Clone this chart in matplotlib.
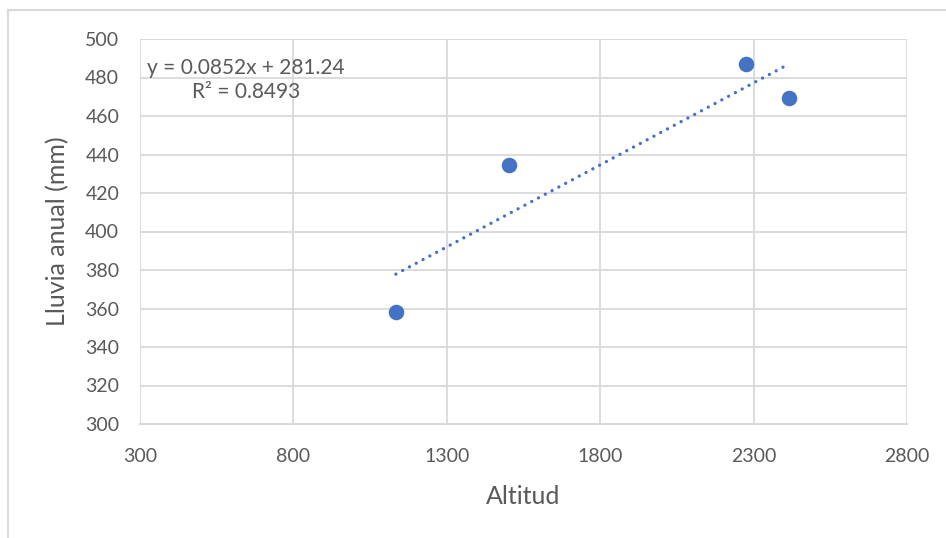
import numpy as np
import matplotlib
matplotlib.use("Agg")
import matplotlib.pyplot as plt

plt.rcParams['font.family'] = ['Lato', 'DejaVu Sans']

# Station altitude (m) and annual rainfall (mm)
altitud = [1134, 1503, 2275, 2415]
lluvia = [358.2, 434.5, 487.0, 469.4]

# Linear trend as reported on the chart
slope = 0.0852
intercept = 281.24
r2 = 0.8493

x_ticks = [300, 800, 1300, 1800, 2300, 2800]
y_ticks = [300, 320, 340, 360, 380, 400, 420, 440, 460, 480, 500]

blue = '#4472C4'
grid_c = '#D9D9D9'
text_c = '#595959'

W, H = 946, 538
fig = plt.figure(figsize=(W / 100, H / 100), dpi=100)
fig.patch.set_facecolor('white')

# chart-area frame (top and left edges visible)
fig.add_artist(plt.Line2D([8 / W, 1.0], [1 - 10 / H] * 2, color=grid_c, lw=1.5,
                          transform=fig.transFigure))
fig.add_artist(plt.Line2D([8 / W] * 2, [0.0, 1 - 10 / H], color=grid_c, lw=1.5,
                          transform=fig.transFigure))

ax = fig.add_axes([140 / W, 1 - 424 / H, (907 - 140) / W, (424 - 39) / H])
ax.set_xlim(300, 2800)
ax.set_ylim(300, 500)
ax.set_xticks(x_ticks)
ax.set_yticks(y_ticks)
ax.grid(True, color=grid_c, lw=1.3)
ax.set_axisbelow(True)
for side in ['top', 'right', 'left']:
    ax.spines[side].set_visible(False)
ax.spines['bottom'].set_color(grid_c)
ax.spines['bottom'].set_linewidth(1.5)
ax.tick_params(length=0, labelsize=14, colors=text_c)
ax.tick_params(axis='x', pad=17)
ax.tick_params(axis='y', pad=15)

# trend line over the data range
xt = np.linspace(min(altitud), max(altitud), 50)
ax.plot(xt, slope * xt + intercept, color=blue, lw=2.4,
        ls=(0, (0.01, 2.3)), dash_capstyle='round', zorder=2)

ax.scatter(altitud, lluvia, s=125, color=blue, zorder=3, linewidths=0)

fig.text(246 / W, 1 - 80 / H, f"y = {slope}x + {intercept}\nR² = {r2}",
         ha='center', va='center', fontsize=15, color=text_c, linespacing=1.25)

ax.set_xlabel('Altitud', fontsize=18, color=text_c)
ax.set_ylabel('Lluvia anual (mm)', fontsize=18, color=text_c)
ax.xaxis.set_label_coords(0.5, -(496 - 424) / (424 - 39), transform=ax.transAxes)
ax.yaxis.set_label_coords(-(140 - 58) / (907 - 140), 0.5)
ax.xaxis.label.set_va('center')
ax.yaxis.label.set_va('center')

fig.savefig('out.png', dpi=100, facecolor='white')
